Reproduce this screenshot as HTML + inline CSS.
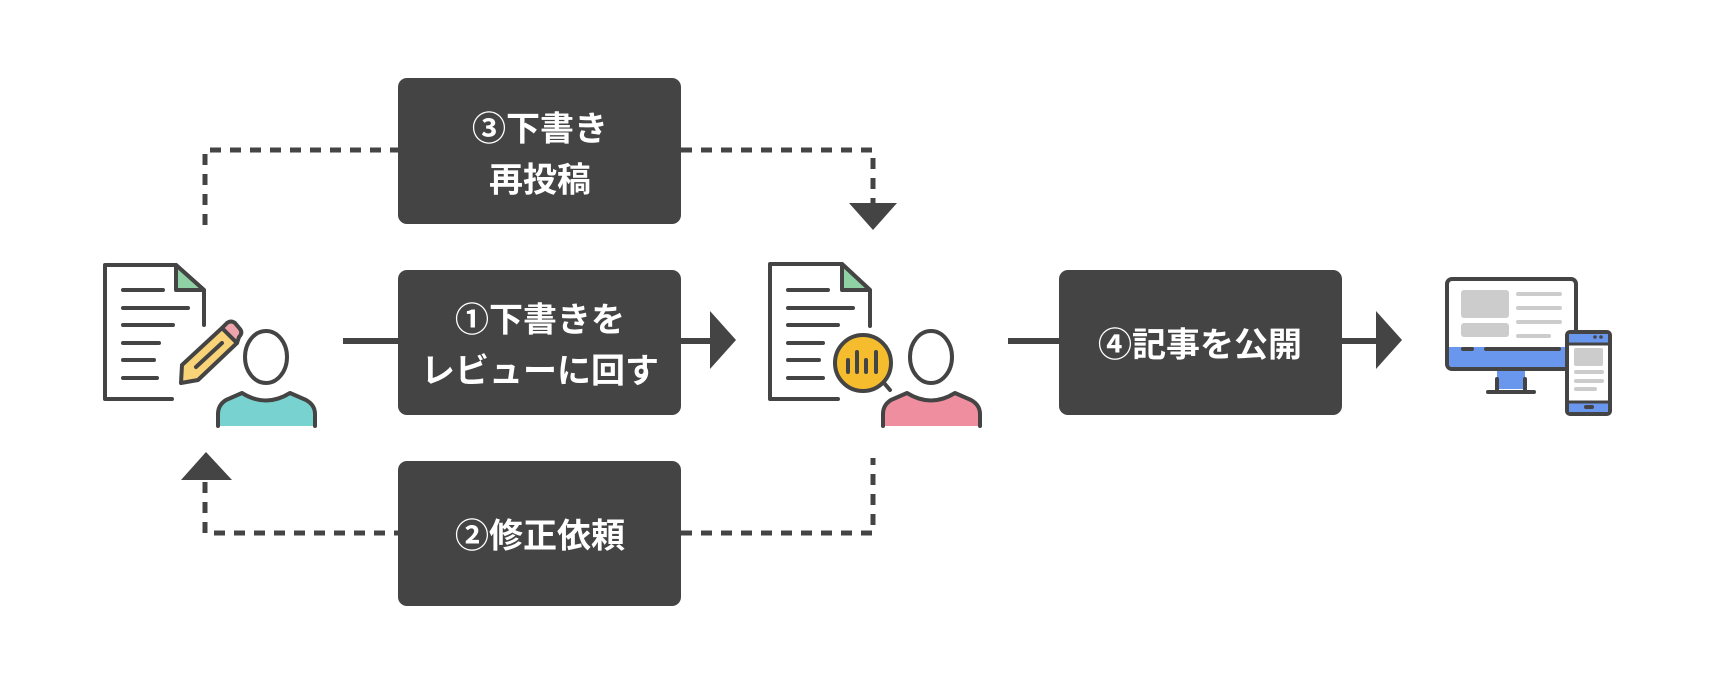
<!DOCTYPE html>
<html><head><meta charset="utf-8"><style>
html,body{margin:0;padding:0;background:#fff;}
svg{display:block}
text{font-family:"Noto Sans CJK JP","Liberation Sans",sans-serif;font-weight:bold;fill:#fff;font-size:34px;text-anchor:middle;dominant-baseline:central}
</style></head><body>
<svg width="1720" height="681" viewBox="0 0 1720 681" xmlns="http://www.w3.org/2000/svg">
<g fill="none" stroke="#444" stroke-width="5" stroke-dasharray="11,9">
<path d="M205 225 V150 H398"/>
<path d="M681 150 H873 V203"/>
<path d="M205 482 V533 H398"/>
<path d="M681 533 H873 V458"/>
</g>
<g fill="#444">
<polygon points="849,203 897,203 873,230"/>
<polygon points="181,480 232,480 206,452"/>
<rect x="343" y="338" width="55" height="6"/>
<rect x="681" y="338" width="30" height="6"/>
<polygon points="710,311 710,369 736,340"/>
<rect x="1008" y="338" width="51" height="6"/>
<rect x="1342" y="338" width="36" height="6"/>
<polygon points="1376,311 1376,369 1402,340"/>
<rect x="398" y="78" width="283" height="146" rx="9"/>
<rect x="398" y="270" width="283" height="145" rx="9"/>
<rect x="398" y="461" width="283" height="145" rx="9"/>
<rect x="1059" y="270" width="283" height="145" rx="9"/>
</g>
<text x="540" y="126">③下書き</text>
<text x="540" y="177">再投稿</text>
<text x="540" y="317">①下書きを</text>
<text x="540" y="368">レビューに回す</text>
<text x="540" y="533">②修正依頼</text>
<text x="1200" y="342">④記事を公開</text>

<g stroke="#444" stroke-width="4" stroke-linecap="round" stroke-linejoin="round" fill="none">
<path d="M172 399 H105 V265 H176 L204 290 V325"/>
<path d="M176 265 V290 H204 Z" fill="#8fd1a5"/>
<path d="M123 290 H163 M123 308 H188 M123 325 H173 M123 343 H159 M123 360 H154 M123 378 H157"/>
<path d="M182 365 L222 328 L237 343 L198 380 L181 383 Z" fill="#f9d378"/>
<path d="M222 328 L227 323 Q231 320 235 323 L240 329 Q243 333 239 337 L237 343 Z" fill="#efa3ad"/>
<path d="M196 367 L222 343"/>
<ellipse cx="266" cy="357" rx="21" ry="26" fill="#fff"/>
<path d="M218 426 V414 Q218 405 226 400 L242 393 Q266 408 290 393 L306 400 Q315 405 315 414 V426" fill="#78d2cf"/>
</g>
<g stroke="#444" stroke-width="4" stroke-linecap="round" stroke-linejoin="round" fill="none">
<path d="M838 399 H770 V264 H842 L870 290 V326"/>
<path d="M842 264 V290 H870 Z" fill="#8fd1a5"/>
<path d="M788 290 H828 M788 308 H853 M788 325 H838 M788 343 H823 M788 360 H819 M788 378 H823"/>
<path d="M884 383 L890 390"/>
<circle cx="863" cy="363" r="28" fill="#f5bd2e"/>
<path d="M848 360 V372 M857 352 V372 M866 360 V372 M876 352 V372"/>
<ellipse cx="931" cy="357" rx="21" ry="26" fill="#fff"/>
<path d="M883 426 V414 Q883 405 891 400 L907 393 Q931 408 955 393 L971 400 Q980 405 980 414 V426" fill="#ee8e9e"/>
</g>
<g stroke-linejoin="round">
<rect x="1447" y="279" width="129" height="90" rx="5" fill="#fff" stroke="#444" stroke-width="4"/>
<path d="M1449 347 H1574 V364 Q1574 367 1571 367 H1452 Q1449 367 1449 364 Z" fill="#6a97ee"/>
<rect x="1461" y="290" width="48" height="28" rx="3" fill="#ccc"/>
<rect x="1461" y="323" width="48" height="14" rx="3" fill="#ccc"/>
<path d="M1518 294 H1560 M1518 308 H1560 M1518 322 H1560 M1518 336 H1549" stroke="#ccc" stroke-width="4" stroke-linecap="round"/>
<path d="M1463 349 H1472 M1486 349 H1559" stroke="#444" stroke-width="4" stroke-linecap="round"/>
<rect x="1497" y="371" width="28" height="18" fill="#6a97ee"/>
<path d="M1497 379 V390 M1525 379 V390 M1488 392 H1534" stroke="#444" stroke-width="4" stroke-linecap="round"/>
<rect x="1567" y="332" width="43" height="82" rx="3" fill="#fff" stroke="#444" stroke-width="4"/>
<rect x="1569" y="334" width="39" height="9" fill="#6a97ee"/>
<rect x="1569" y="403" width="39" height="9" fill="#6a97ee"/>
<path d="M1569 344 H1608 M1569 402 H1608" stroke="#444" stroke-width="3"/>
<circle cx="1595" cy="337" r="1.8" fill="#444"/><circle cx="1601" cy="337" r="1.8" fill="#444"/>
<rect x="1584" y="405" width="10" height="4" rx="2" fill="#444"/>
<rect x="1574" y="348" width="29" height="18" rx="2" fill="#ccc"/>
<path d="M1576 372 H1602 M1576 381 H1602 M1576 389 H1595" stroke="#ccc" stroke-width="4" stroke-linecap="round"/>
</g>
</svg>
</body></html>
